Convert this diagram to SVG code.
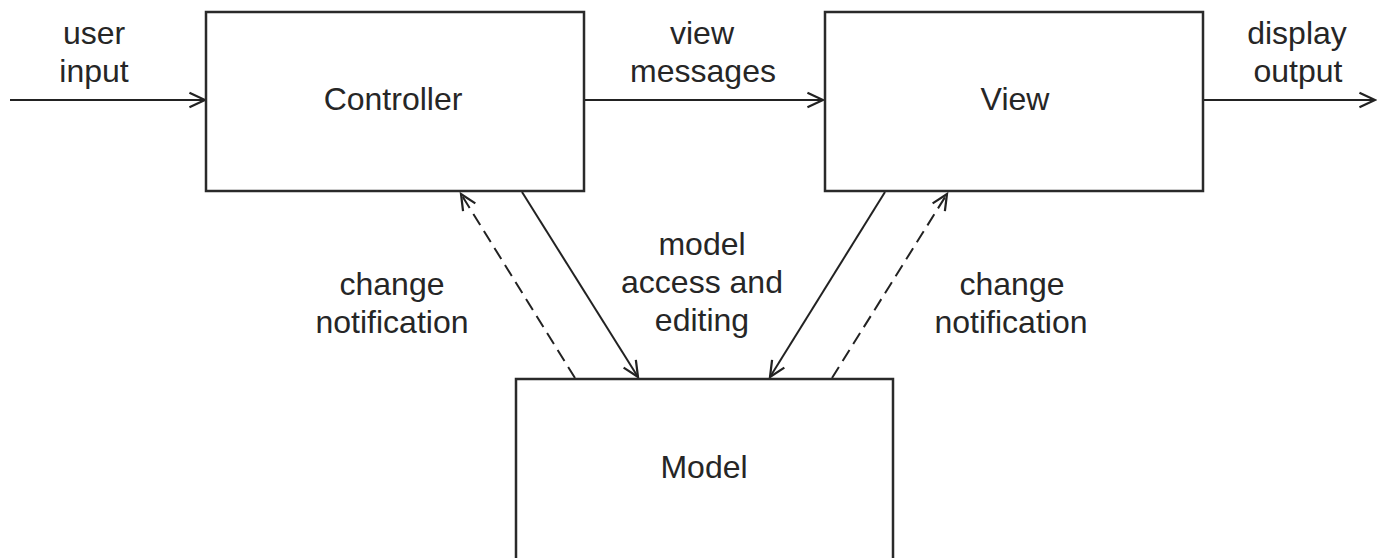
<svg xmlns="http://www.w3.org/2000/svg" width="1377" height="558" viewBox="0 0 1377 558">
  <style>
    .box { fill: #ffffff; stroke: #2a2a2a; stroke-width: 2.5; }
    .lbl { font-family: "Liberation Sans", Arial, Helvetica, sans-serif; font-size: 32px; fill: #262626; text-anchor: middle; }
    .link { fill: none; stroke: #222222; stroke-width: 2; marker-end: url(#vhead); }
    .dash { stroke-dasharray: 13 7; }
  </style>
  <defs>
    <marker id="vhead" markerUnits="userSpaceOnUse" markerWidth="20" markerHeight="20" viewBox="-16 -8 18 16" refX="0" refY="0" orient="auto">
      <path d="M-14,-6.5 L0,0 L-14,6.5" fill="none" stroke="#222222" stroke-width="2"/>
    </marker>
  </defs>
  <rect width="1377" height="558" fill="#ffffff"/>

  <g id="connectors">
    <!-- input / output flow along the top row -->
    <line class="link" x1="10" y1="100" x2="205" y2="100"/>
    <line class="link" x1="584" y1="100" x2="823" y2="100"/>
    <line class="link" x1="1203" y1="100" x2="1375" y2="100"/>
    <!-- model access and editing -->
    <line class="link" x1="522" y1="192" x2="638" y2="377"/>
    <line class="link" x1="885" y1="192" x2="770" y2="377"/>
    <!-- change notifications -->
    <line class="link dash" x1="575" y1="378" x2="461" y2="194"/>
    <line class="link dash" x1="832" y1="378" x2="947" y2="194"/>
  </g>

  <g id="controller">
    <rect class="box" x="206" y="12" width="378" height="179"/>
    <text class="lbl" x="393" y="110">Controller</text>
  </g>

  <g id="view">
    <rect class="box" x="825" y="12" width="378" height="179"/>
    <text class="lbl" x="1015" y="110">View</text>
  </g>

  <g id="model">
    <rect class="box" x="516" y="379" width="377" height="185"/>
    <text class="lbl" x="704" y="478">Model</text>
  </g>

  <g id="labels">
    <text class="lbl" x="94" y="44">user</text>
    <text class="lbl" x="94" y="82">input</text>
    <text class="lbl" x="702" y="44">view</text>
    <text class="lbl" x="703" y="82">messages</text>
    <text class="lbl" x="1297" y="44">display</text>
    <text class="lbl" x="1298" y="82">output</text>
    <text class="lbl" x="392" y="295">change</text>
    <text class="lbl" x="392" y="333">notification</text>
    <text class="lbl" x="702" y="255">model</text>
    <text class="lbl" x="702" y="293">access and</text>
    <text class="lbl" x="702" y="331">editing</text>
    <text class="lbl" x="1012" y="295">change</text>
    <text class="lbl" x="1011" y="333">notification</text>
  </g>
</svg>
